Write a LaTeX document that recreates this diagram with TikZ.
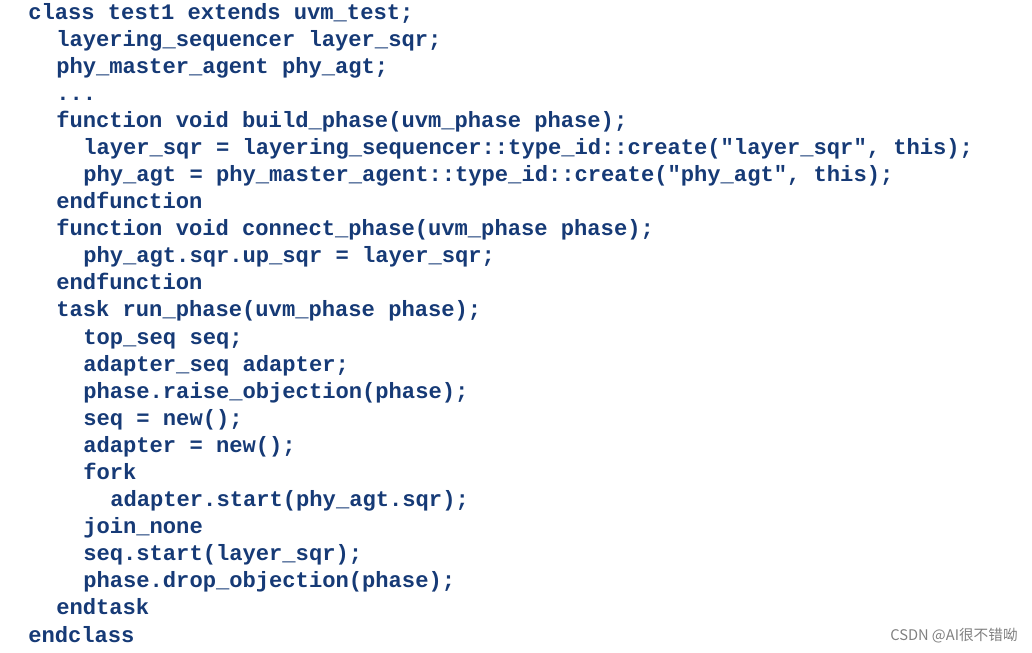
\documentclass[tikz,border=0pt]{standalone}
\usepackage{fontspec}
\setmonofont{Liberation Mono}
\newfontfamily\cjk{Noto Sans CJK SC}
\definecolor{codeblue}{RGB}{22,58,118}
\tikzset{code/.style={anchor=base west,inner sep=0pt,text=codeblue,font=\ttfamily\bfseries\fontsize{16.6}{18}\selectfont}}
\begin{document}
\begin{tikzpicture}[x=0.75pt,y=-0.75pt]
  \useasboundingbox (0,0) rectangle (1032,653);
  \node[code] (l1) at (28,19) {class test1 extends uvm\_test;};
  \node[code] (l2) at (56,46) {layering\_sequencer layer\_sqr;};
  \node[code] (l3) at (56,73) {phy\_master\_agent phy\_agt;};
  \node[code] (l4) at (56,100) {...};
  \node[code] (l5) at (56,127) {function void build\_phase(uvm\_phase phase);};
  \node[code] (l6) at (83,154) {layer\_sqr = layering\_sequencer::type\_id::create("layer\_sqr", this);};
  \node[code] (l7) at (83,181) {phy\_agt = phy\_master\_agent::type\_id::create("phy\_agt", this);};
  \node[code] (l8) at (56,208) {endfunction};
  \node[code] (l9) at (56,235) {function void connect\_phase(uvm\_phase phase);};
  \node[code] (l10) at (83,262) {phy\_agt.sqr.up\_sqr = layer\_sqr;};
  \node[code] (l11) at (56,289) {endfunction};
  \node[code] (l12) at (56,316) {task run\_phase(uvm\_phase phase);};
  \node[code] (l13) at (83,344) {top\_seq seq;};
  \node[code] (l14) at (83,371) {adapter\_seq adapter;};
  \node[code] (l15) at (83,398) {phase.raise\_objection(phase);};
  \node[code] (l16) at (83,425) {seq = new();};
  \node[code] (l17) at (83,452) {adapter = new();};
  \node[code] (l18) at (83,479) {fork};
  \node[code] (l19) at (110,506) {adapter.start(phy\_agt.sqr);};
  \node[code] (l20) at (83,533) {join\_none};
  \node[code] (l21) at (83,560) {seq.start(layer\_sqr);};
  \node[code] (l22) at (83,587) {phase.drop\_objection(phase);};
  \node[code] (l23) at (56,614) {endtask};
  \node[code] (l24) at (28,642) {endclass};
  \node[anchor=base east,inner sep=0pt,text=gray,font=\cjk\fontsize{11}{13}\selectfont] (mark) at (1018,640) {CSDN @AI很不错呦};
\end{tikzpicture}
\end{document}
